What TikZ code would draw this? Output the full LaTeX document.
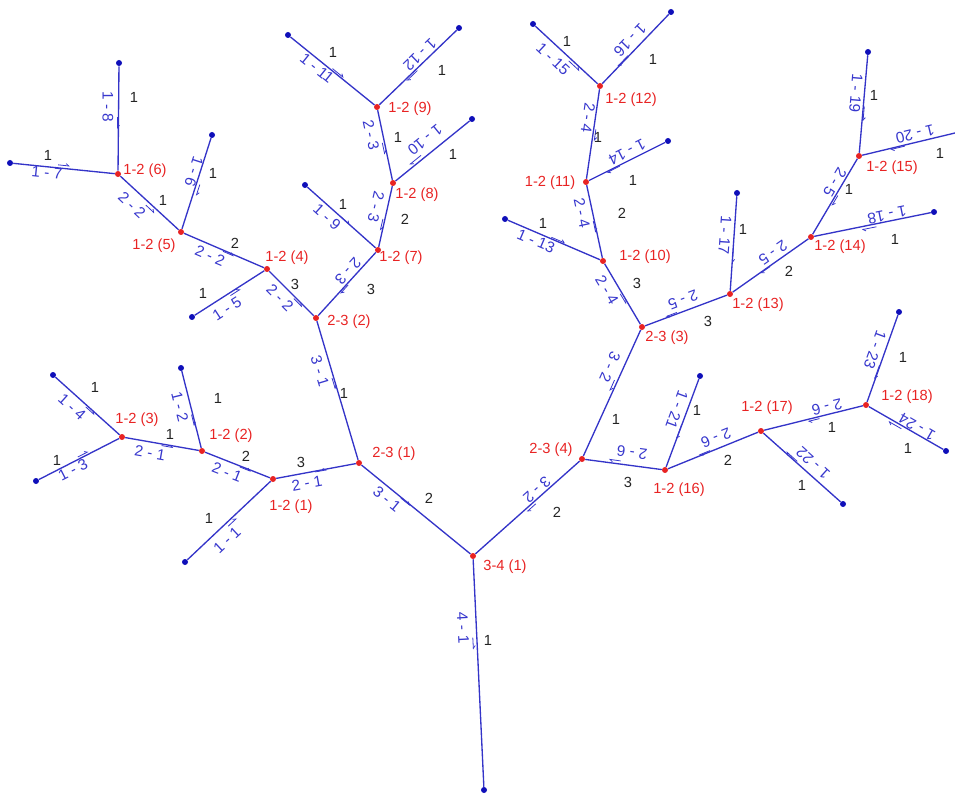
\documentclass[tikz,border=0pt]{standalone}
\usepackage{fontspec}
\setmainfont{Liberation Sans}
\usetikzlibrary{calc,arrows.meta}
\definecolor{segblue}{RGB}{52,52,200}
\definecolor{labblue}{RGB}{55,55,205}
\definecolor{dotblue}{RGB}{15,15,185}
\definecolor{jred}{RGB}{232,35,35}
\definecolor{numblk}{RGB}{35,35,35}
\tikzset{
  seg/.style={draw=segblue, line width=1pt},
  rdot/.style={circle, fill=jred, inner sep=0pt, minimum size=4.5pt},
  bdot/.style={circle, fill=dotblue, inner sep=0pt, minimum size=4.5pt},
  blab/.style={text=labblue, font=\fontsize{11.5}{12}\selectfont, inner sep=1pt},
  rlab/.style={text=jred, font=\fontsize{11}{12}\selectfont, inner sep=0pt},
  num/.style={text=numblk, font=\fontsize{11}{12}\selectfont, inner sep=0pt},
  flowmk/.style={draw=labblue, line width=0.6pt, -{Straight Barb[left,length=2pt,width=3pt]}},
}
\newcommand\slab[4]{%
  \node[blab, rotate=#3] (#1) at (#2) {#4};
  \draw[flowmk] ($(#1.north west)!0.8!(#1.north east)!1.8pt!90:(#1.north east)$) -- ($(#1.north west)!1.15!(#1.north east)!1.8pt!-90:(#1.north west)$);
}
\begin{document}
\begin{tikzpicture}[x=0.75pt, y=-0.75pt]
\useasboundingbox (0,0) rectangle (955,798);
% junctions
\node[rdot] (J1) at (473,556) {};
\node[rdot] (A1) at (359,463) {};
\node[rdot] (A2) at (316,318) {};
\node[rdot] (A3) at (642,327) {};
\node[rdot] (A4) at (582,459) {};
\node[rdot] (B1) at (273,479) {};
\node[rdot] (B2) at (202,451) {};
\node[rdot] (B3) at (122,437) {};
\node[rdot] (B4) at (267,269) {};
\node[rdot] (B5) at (181,232) {};
\node[rdot] (B6) at (118,174) {};
\node[rdot] (B7) at (378,250) {};
\node[rdot] (B8) at (393,183) {};
\node[rdot] (B9) at (377,107) {};
\node[rdot] (B10) at (603,261) {};
\node[rdot] (B11) at (586,182) {};
\node[rdot] (B12) at (600,86) {};
\node[rdot] (B13) at (730,294) {};
\node[rdot] (B14) at (811,237) {};
\node[rdot] (B15) at (859,156) {};
\node[rdot] (B16) at (665,470) {};
\node[rdot] (B17) at (761,431) {};
\node[rdot] (B18) at (866,405) {};
% sources
\node[bdot] (S1) at (185,562) {};
\node[bdot] (S2) at (181,368) {};
\node[bdot] (S3) at (36,481) {};
\node[bdot] (S4) at (53,375) {};
\node[bdot] (S5) at (192,317) {};
\node[bdot] (S6) at (212,135) {};
\node[bdot] (S7) at (10,163) {};
\node[bdot] (S8) at (119,63) {};
\node[bdot] (S9) at (305,185) {};
\node[bdot] (S10) at (472,119) {};
\node[bdot] (S11) at (288,35) {};
\node[bdot] (S12) at (459,28) {};
\node[bdot] (S13) at (505,219) {};
\node[bdot] (S14) at (668,141) {};
\node[bdot] (S15) at (533,24) {};
\node[bdot] (S16) at (671,12) {};
\node[bdot] (S17) at (737,193) {};
\node[bdot] (S18) at (934,212) {};
\node[bdot] (S19) at (868,52) {};
\coordinate (S20) at (955,133);
\node[bdot] (S21) at (700,376) {};
\node[bdot] (S22) at (843,504) {};
\node[bdot] (S23) at (899,312) {};
\node[bdot] (S24) at (946,451) {};
\node[bdot] (O) at (484,790) {};
% first-order segments
\draw[seg] (S1) -- (B1);
\draw[seg] (S2) -- (B2);
\draw[seg] (S3) -- (B3);
\draw[seg] (S4) -- (B3);
\draw[seg] (S5) -- (B4);
\draw[seg] (S6) -- (B5);
\draw[seg] (S7) -- (B6);
\draw[seg] (S8) -- (B6);
\draw[seg] (S9) -- (B7);
\draw[seg] (S10) -- (B8);
\draw[seg] (S11) -- (B9);
\draw[seg] (S12) -- (B9);
\draw[seg] (S13) -- (B10);
\draw[seg] (S14) -- (B11);
\draw[seg] (S15) -- (B12);
\draw[seg] (S16) -- (B12);
\draw[seg] (S17) -- (B13);
\draw[seg] (S18) -- (B14);
\draw[seg] (S19) -- (B15);
\draw[seg] (S20) -- (B15);
\draw[seg] (S21) -- (B16);
\draw[seg] (S22) -- (B17);
\draw[seg] (S23) -- (B18);
\draw[seg] (S24) -- (B18);
% higher-order segments
\draw[seg] (B3) -- (B2);
\draw[seg] (B2) -- (B1);
\draw[seg] (B1) -- (A1);
\draw[seg] (B6) -- (B5);
\draw[seg] (B5) -- (B4);
\draw[seg] (B4) -- (A2);
\draw[seg] (B9) -- (B8);
\draw[seg] (B8) -- (B7);
\draw[seg] (B7) -- (A2);
\draw[seg] (A2) -- (A1);
\draw[seg] (A1) -- (J1);
\draw[seg] (B12) -- (B11);
\draw[seg] (B11) -- (B10);
\draw[seg] (B10) -- (A3);
\draw[seg] (B15) -- (B14);
\draw[seg] (B14) -- (B13);
\draw[seg] (B13) -- (A3);
\draw[seg] (A3) -- (A4);
\draw[seg] (A4) -- (J1);
\draw[seg] (B18) -- (B17);
\draw[seg] (B17) -- (B16);
\draw[seg] (B16) -- (A4);
\draw[seg] (J1) -- (O);
% red junction labels
\node[rlab] (rB6) at (145,171) {1-2 (6)};
\node[rlab] (rB5) at (154,246) {1-2 (5)};
\node[rlab] (rB9) at (410,109) {1-2 (9)};
\node[rlab] (rB8) at (417,195) {1-2 (8)};
\node[rlab] (rB7) at (401,258) {1-2 (7)};
\node[rlab] (rB4) at (287,258) {1-2 (4)};
\node[rlab] (rB12) at (631,100) {1-2 (12)};
\node[rlab] (rB11) at (550,183) {1-2 (11)};
\node[rlab] (rB10) at (645,257) {1-2 (10)};
\node[rlab] (rB15) at (892,168) {1-2 (15)};
\node[rlab] (rB14) at (840,247) {1-2 (14)};
\node[rlab] (rB3) at (137,420) {1-2 (3)};
\node[rlab] (rB2) at (231,436) {1-2 (2)};
\node[rlab] (rA2) at (349,322) {2-3 (2)};
\node[rlab] (rA1) at (394,454) {2-3 (1)};
\node[rlab] (rB1) at (291,507) {1-2 (1)};
\node[rlab] (rA3) at (667,338) {2-3 (3)};
\node[rlab] (rA4) at (551,450) {2-3 (4)};
\node[rlab] (rB16) at (679,490) {1-2 (16)};
\node[rlab] (rB13) at (758,305) {1-2 (13)};
\node[rlab] (rB18) at (907,397) {1-2 (18)};
\node[rlab] (rB17) at (767,408) {1-2 (17)};
\node[rlab] (rJ1) at (505,567) {3-4 (1)};
% blue segment labels with flow marks
\slab{l8}{108,107}{-90}{1 - 8}
\slab{l7}{47,173}{-6}{1 - 7}
\slab{m22a}{132,205}{-43}{2 - 2}
\slab{l6}{194,172}{-108}{1 - 6}
\slab{m22b}{210,256}{-23}{2 - 2}
\slab{l11}{317,68}{-39}{1 - 11}
\slab{l12}{420,55}{-136}{1 - 12}
\slab{m23a}{371,135}{-78}{2 - 3}
\slab{l10}{425,140}{-141}{1 - 10}
\slab{m23b}{376,207}{-103}{2 - 3}
\slab{l9}{327,217}{-42}{1 - 9}
\slab{m23c}{348,271}{-132}{2 - 3}
\slab{m22c}{280,298}{-45}{2 - 2}
\slab{l5}{227,309}{33}{1 - 5}
\slab{m31a}{320,371}{-73}{3 - 1}
\slab{m31b}{387,499}{-39}{3 - 1}
\slab{m21c}{307,483}{10.5}{2 - 1}
\slab{m21b}{227,472}{-21.5}{2 - 1}
\slab{m21a}{150,453}{-10}{2 - 1}
\slab{l2}{180,407}{-76}{1 - 2}
\slab{l4}{72,407}{-42}{1 - 4}
\slab{l3}{73,470}{27}{1 - 3}
\slab{l1}{227,540}{43}{1 - 1}
\slab{m41}{463,628}{-87}{4 - 1}
\slab{m32b}{537,490}{-138}{3 - 2}
\slab{m32a}{610,367}{-114}{3 - 2}
\slab{m24c}{607,290}{-59}{2 - 4}
\slab{m24b}{582,213}{-78}{2 - 4}
\slab{m24a}{588,118}{-98}{2 - 4}
\slab{l15}{553,59}{-43}{1 - 15}
\slab{l16}{630,40}{-134}{1 - 16}
\slab{l14}{627,152}{-153}{1 - 14}
\slab{l13}{536,241}{-23}{1 - 13}
\slab{m25c}{683,300}{-159}{2 - 5}
\slab{m25b}{773,253}{-145}{2 - 5}
\slab{m25a}{835,182}{-121}{2 - 5}
\slab{l17}{725,235}{-94}{1 - 17}
\slab{l18}{887,215}{-168.5}{1 - 18}
\slab{l19}{856,93}{-95}{1 - 19}
\slab{l20}{915,134}{-166.5}{1 - 20}
\slab{m26c}{632,453}{172}{2 - 6}
\slab{l21}{677,410}{-110}{1 - 21}
\slab{m26b}{716,438}{-158}{2 - 6}
\slab{m26a}{827,407}{-166}{2 - 6}
\slab{l22}{813,463}{138}{1 - 22}
\slab{l23}{875,350}{-110}{1 - 23}
\slab{l24}{917,427}{150}{1 - 24}
% black order numbers
\node[num] (n8) at (134,97) {1};
\node[num] (n7) at (48,155) {1};
\node[num] (n22a) at (163,200) {1};
\node[num] (n6) at (213,173) {1};
\node[num] (n22b) at (235,243) {2};
\node[num] (n11) at (333,52) {1};
\node[num] (n12) at (442,70) {1};
\node[num] (n23a) at (398,137) {1};
\node[num] (n10) at (453,154) {1};
\node[num] (n23b) at (405,219) {2};
\node[num] (n9) at (343,204) {1};
\node[num] (n15) at (567,41) {1};
\node[num] (n16) at (653,59) {1};
\node[num] (n24a) at (598,137) {1};
\node[num] (n14) at (633,180) {1};
\node[num] (n24b) at (622,213) {2};
\node[num] (n13) at (543,223) {1};
\node[num] (n19) at (874,95) {1};
\node[num] (n20) at (940,153) {1};
\node[num] (n25a) at (849,189) {1};
\node[num] (n18) at (895,239) {1};
\node[num] (n17) at (743,229) {1};
\node[num] (n25b) at (789,271) {2};
\node[num] (n5) at (203,293) {1};
\node[num] (n4) at (95,387) {1};
\node[num] (n2) at (218,398) {1};
\node[num] (n21a) at (170,434) {1};
\node[num] (n3) at (57,460) {1};
\node[num] (n21b) at (246,456) {2};
\node[num] (n1) at (209,518) {1};
\node[num] (n22c) at (295,284) {3};
\node[num] (n23c) at (371,289) {3};
\node[num] (n31a) at (344,393) {1};
\node[num] (n21c) at (301,462) {3};
\node[num] (n31b) at (429,498) {2};
\node[num] (n24c) at (637,283) {3};
\node[num] (n25c) at (708,321) {3};
\node[num] (n32a) at (616,419) {1};
\node[num] (n26c) at (628,482) {3};
\node[num] (n21) at (697,410) {1};
\node[num] (n32b) at (557,512) {2};
\node[num] (n23) at (903,357) {1};
\node[num] (n26a) at (832,427) {1};
\node[num] (n26b) at (728,460) {2};
\node[num] (n24) at (908,448) {1};
\node[num] (n22) at (802,485) {1};
\node[num] (n41) at (488,640) {1};
\end{tikzpicture}
\end{document}
